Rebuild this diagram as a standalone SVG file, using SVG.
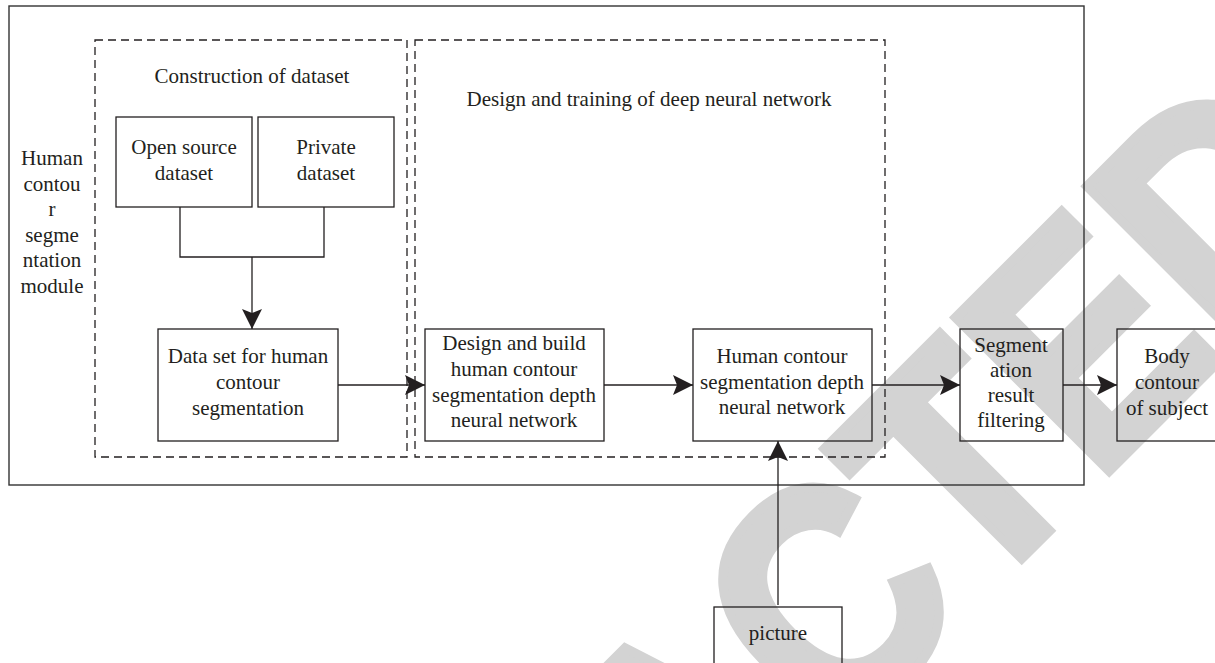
<svg xmlns="http://www.w3.org/2000/svg" width="1215" height="663" viewBox="0 0 1215 663">
  <style>
    .t { font-family: "Liberation Serif", "Times New Roman", serif; font-size: 21px; fill: #231f20; text-anchor: middle; }
    .box { fill: none; stroke: #231f20; stroke-width: 1.3; }
    .frame { fill: none; stroke: #333333; stroke-width: 1.4; }
    .dash { fill: none; stroke: #231f20; stroke-width: 1.3; stroke-dasharray: 8 5; }
    .wire { fill: none; stroke: #231f20; stroke-width: 1.3; }
    .wm { font-family: "Liberation Sans", Arial, sans-serif; font-weight: bold; font-size: 315px; fill: #d3d3d3; stroke: #d3d3d3; stroke-width: 10; stroke-linejoin: miter; }
  </style>
  <defs>
    <marker id="arr" markerUnits="userSpaceOnUse" viewBox="0 0 20 20" refX="20" refY="10" markerWidth="20" markerHeight="20" orient="auto">
      <path d="M0,0 L20,10 L0,20 L4,10 z" fill="#231f20"/>
    </marker>
  </defs>
  <rect width="1215" height="663" fill="#ffffff"/>
  <text class="wm" transform="translate(155,1425) rotate(-45) scale(0.884,1)">RETRACTED</text>

  <g id="module">
    <rect class="frame" x="9" y="6" width="1075" height="479"/>
    <text class="t" x="52" y="165">Human</text>
    <text class="t" x="52" y="191">contou</text>
    <text class="t" x="52" y="216">r</text>
    <text class="t" x="52" y="242">segme</text>
    <text class="t" x="52" y="267">ntation</text>
    <text class="t" x="52" y="293">module</text>
  </g>

  <g id="construction">
    <rect class="dash" x="95" y="40" width="312" height="417"/>
    <text class="t" x="252" y="83">Construction of dataset</text>
  </g>

  <g id="design-training">
    <rect class="dash" x="415" y="40" width="470" height="417"/>
    <text class="t" x="649" y="106">Design and training of deep neural network</text>
  </g>

  <g id="open-source">
    <rect class="box" x="116" y="117" width="136" height="90"/>
    <text class="t" x="184" y="154">Open source</text>
    <text class="t" x="184" y="180">dataset</text>
  </g>

  <g id="private">
    <rect class="box" x="258" y="117" width="136" height="90"/>
    <text class="t" x="326" y="154">Private</text>
    <text class="t" x="326" y="180">dataset</text>
  </g>

  <g id="dataset">
    <rect class="box" x="158" y="329" width="180" height="112"/>
    <text class="t" x="248" y="363">Data set for human</text>
    <text class="t" x="248" y="389">contour</text>
    <text class="t" x="248" y="415">segmentation</text>
  </g>

  <g id="design-build">
    <rect class="box" x="425" y="329" width="179" height="112"/>
    <text class="t" x="514" y="350">Design and build</text>
    <text class="t" x="514" y="376">human contour</text>
    <text class="t" x="514" y="402">segmentation depth</text>
    <text class="t" x="514" y="427">neural network</text>
  </g>

  <g id="network">
    <rect class="box" x="693" y="329" width="179" height="112"/>
    <text class="t" x="782" y="363">Human contour</text>
    <text class="t" x="782" y="389">segmentation depth</text>
    <text class="t" x="782" y="414">neural network</text>
  </g>

  <g id="filtering">
    <rect class="box" x="960" y="329" width="103" height="112"/>
    <text class="t" x="1011" y="352">Segment</text>
    <text class="t" x="1011" y="377">ation</text>
    <text class="t" x="1011" y="402">result</text>
    <text class="t" x="1011" y="427">filtering</text>
  </g>

  <g id="body-contour">
    <rect class="box" x="1117" y="329" width="110" height="112"/>
    <text class="t" x="1167" y="363">Body</text>
    <text class="t" x="1167" y="389">contour</text>
    <text class="t" x="1167" y="415">of subject</text>
  </g>

  <g id="picture">
    <rect class="box" x="714" y="607" width="128" height="70"/>
    <text class="t" x="778" y="640">picture</text>
  </g>

  <g id="connectors">
    <path class="wire" d="M180,207 V257 H324 V207"/>
    <path class="wire" d="M252,257 V329" marker-end="url(#arr)"/>
    <path class="wire" d="M338,385 H425" marker-end="url(#arr)"/>
    <path class="wire" d="M604,385 H693" marker-end="url(#arr)"/>
    <path class="wire" d="M872,385 H960" marker-end="url(#arr)"/>
    <path class="wire" d="M1063,385 H1117" marker-end="url(#arr)"/>
    <path class="wire" d="M778,605 V441" marker-end="url(#arr)"/>
  </g>
</svg>
